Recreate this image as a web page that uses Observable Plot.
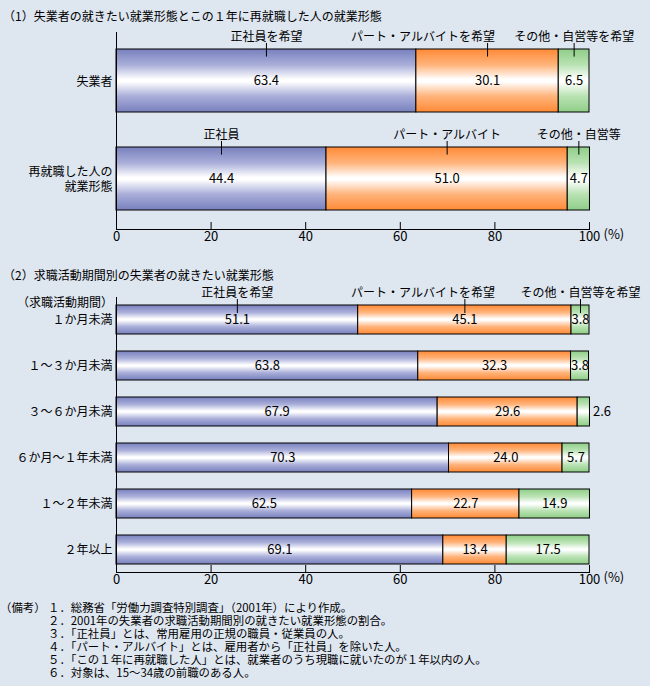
<!DOCTYPE html>
<html><head><meta charset="utf-8">
<script src="https://cdn.jsdelivr.net/npm/d3@7"></script>
<script src="https://cdn.jsdelivr.net/npm/@observablehq/plot@0.6"></script>
<style>
html,body{margin:0;padding:0;background:#dee6f0;}
#root{position:relative;width:650px;height:686px;background:#dee6f0;font-family:"Noto Sans CJK JP",sans-serif;color:#000;overflow:hidden;}
.t{position:absolute;font-size:12px;line-height:12px;white-space:nowrap;}
.n{font-size:11.4px;line-height:11.4px;}
.plot{position:absolute;left:0;}
</style></head><body><div id="root"></div>
<script>
// ---------- data ----------
const typeKeys = ["seishain", "part", "other"];
const wishLabels = ["正社員を希望", "パート・アルバイトを希望", "その他・自営等を希望"];
const actualLabels = ["正社員", "パート・アルバイト", "その他・自営等"];

const title1 = "（1）失業者の就きたい就業形態とこの１年に再就職した人の就業形態";
const rows1 = ["失業者", "再就職した人の\n就業形態"];
const seishain1 = [63.4, 44.4];
const part1 = [30.1, 51.0];
const other1 = [6.5, 4.7];

const title2 = "（2）求職活動期間別の失業者の就きたい就業形態";
const axisTitle2 = "（求職活動期間）";
const rows2 = ["１か月未満", "１～３か月未満", "３～６か月未満", "６か月～１年未満", "１～２年未満", "２年以上"];
const seishain2 = [51.1, 63.8, 67.9, 70.3, 62.5, 69.1];
const part2 = [45.1, 32.3, 29.6, 24.0, 22.7, 13.4];
const other2 = [3.8, 3.8, 2.6, 5.7, 14.9, 17.5];

const xTicks = [0, 20, 40, 60, 80, 100];
const unitLabel = "(%)";

const notesHead = "（備考）";
const notes = [
  "１．総務省「労働力調査特別調査」（2001年）により作成。",
  "２．2001年の失業者の求職活動期間別の就きたい就業形態の割合。",
  "３．「正社員」とは、常用雇用の正規の職員・従業員の人。",
  "４．「パート・アルバイト」とは、雇用者から「正社員」を除いた人。",
  "５．「この１年に再就職した人」とは、就業者のうち現職に就いたのが１年以内の人。",
  "６．対象は、15～34歳の前職のある人。"
];

// ---------- styles ----------
const FONT = '"Noto Sans CJK JP", sans-serif';
const gradients = {
  seishain: ["#7880bd", "#a9aed9", "#ffffff"],
  part: ["#ff8a36", "#ffb37a", "#ffffff"],
  other: ["#8fce88", "#b9e2b3", "#ffffff"]
};

const root = document.getElementById("root");
function addText(txt, style, cls) {
  const d = document.createElement("div");
  d.className = "t" + (cls ? " " + cls : "");
  d.textContent = txt;
  Object.assign(d.style, style);
  root.appendChild(d);
  return d;
}

function buildSegments(rows, series) {
  const segs = [];
  rows.forEach((r, i) => {
    let c = 0;
    series.forEach((s, j) => {
      const v = s[i];
      segs.push({row: r, rowIndex: i, type: typeKeys[j], typeIndex: j, value: v, x1: c, x2: c + v, mid: c + v / 2});
      c += v;
    });
  });
  return segs;
}

function addDefs(svg, prefix) {
  const defs = d3.select(svg).insert("defs", ":first-child");
  for (const k of typeKeys) {
    const [edge, mid, center] = gradients[k];
    const g = defs.append("linearGradient").attr("id", prefix + k)
      .attr("x1", 0).attr("y1", 0).attr("x2", 0).attr("y2", 1);
    [[0, edge], [0.25, mid], [0.48, center], [0.52, center], [0.75, mid], [1, edge]].forEach(([o, c]) =>
      g.append("stop").attr("offset", o).attr("stop-color", c));
  }
}

function makeChart({prefix, rows, segs, leaderRows, height, marginTop, marginBottom, yRange, paddingInner, lineHeight}) {
  const n = rows.length;
  const step = (yRange[1] - yRange[0]) / (n - paddingInner);
  const bw = step * (1 - paddingInner);
  const leaders = [];
  for (const [rowIndex, labels] of leaderRows) {
    segs.filter(s => s.rowIndex === rowIndex).forEach(s => {
      leaders.push({...s, label: labels[s.typeIndex], wish: labels === wishLabels});
    });
  }
  const partLabelRight = 80; // right end of the wish-part label, on the x scale
  const marks = [];
  for (const k of typeKeys) {
    marks.push(Plot.barX(segs.filter(s => s.type === k), {
      x1: "x1", x2: "x2", y: "row", fill: `url(#${prefix}${k})`, stroke: "black", strokeWidth: 1
    }));
  }
  marks.push(
    Plot.ruleX([0], {stroke: "black"}),
    Plot.frame({anchor: "bottom", stroke: "black"}),
    Plot.axisX({ticks: xTicks, tickSize: -7, tickPadding: 9, fontSize: 13, label: null, tickFormat: d => String(d), stroke: "black"}),
    Plot.text([unitLabel], {x: () => 100, text: d => d, frameAnchor: "bottom", textAnchor: "start", dx: 14, dy: 9, fontSize: 13}),
    Plot.axisY({tickSize: 0, tickPadding: 4, fontSize: 12, label: null, lineHeight}),
    Plot.text(segs.filter(s => s.value >= 3), {x: "mid", y: "row", text: d => d.value.toFixed(1), fontSize: 13}),
    Plot.text(segs.filter(s => s.value < 3), {x: "x2", y: "row", text: d => d.value.toFixed(1), fontSize: 13, textAnchor: "start", dx: 3}),
    Plot.tickX(leaders, {x: "mid", y: "row", insetTop: -6, insetBottom: bw - 8, stroke: "black"}),
    Plot.text(leaders.filter(d => !(d.wish && d.type === "part")), {x: "mid", y: "row", text: "label", dy: -(bw / 2 + 12.5), fontSize: 12}),
    Plot.text(leaders.filter(d => d.wish && d.type === "part"), {x: () => partLabelRight, y: "row", text: "label", dy: -(bw / 2 + 12.5), fontSize: 12, textAnchor: "end"})
  );
  const svg = Plot.plot({
    width: 650, height, marginTop, marginBottom, marginLeft: 116, marginRight: 61,
    style: {fontFamily: FONT, fontSize: "12px", background: "transparent", color: "black", overflow: "visible"},
    x: {domain: [0, 100]},
    y: {type: "band", domain: rows, range: yRange, paddingInner, paddingOuter: 0},
    marks
  });
  addDefs(svg, prefix);
  svg.classList.add("plot");
  return svg;
}

// title 1
addText(title1, {left: "3px", top: "10px"});
const segs1 = buildSegments(rows1, [seishain1, part1, other1]);
const c1 = makeChart({prefix: "a", rows: rows1, segs: segs1, leaderRows: [[0, wishLabels], [1, actualLabels]],
  height: 250, marginTop: 32, marginBottom: 21, yRange: [49, 211], paddingInner: 0.357, lineHeight: 1.18});
c1.style.top = "0px";
root.appendChild(c1);

// title 2
addText(title2, {left: "3px", top: "269px"});
addText(axisTitle2, {right: "537px", top: "296px"});
const segs2 = buildSegments(rows2, [seishain2, part2, other2]);
const c2 = makeChart({prefix: "b", rows: rows2, segs: segs2, leaderRows: [[0, wishLabels]],
  height: 335, marginTop: 37, marginBottom: 23, yRange: [45, 304], paddingInner: 0.37, lineHeight: 1});
c2.style.top = "260px";
root.appendChild(c2);

// notes
addText(notesHead, {left: "0px", top: "602px"}, "n");
notes.forEach((t, i) => addText(t, {left: "48px", top: (602 + i * 12.9) + "px"}, "n"));
</script>
</body></html>
